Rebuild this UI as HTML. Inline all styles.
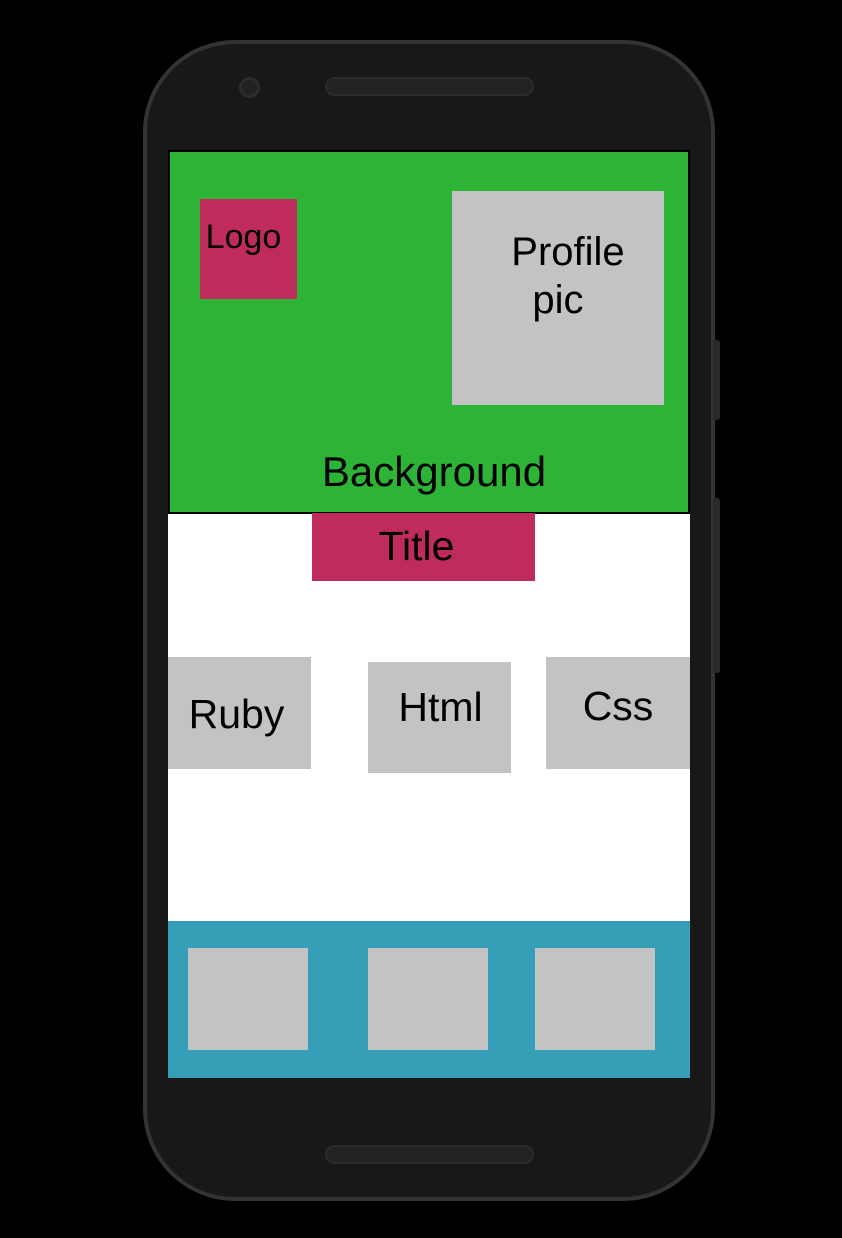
<!DOCTYPE html>
<html><head><meta charset="utf-8"><style>
body{margin:0;width:842px;height:1238px;background:#000;position:relative;overflow:hidden;font-family:"Liberation Sans",sans-serif}
div{position:absolute;box-sizing:border-box}
.g{background:#c3c3c3}
.t{color:#000;display:flex;align-items:center;justify-content:center;text-align:center;line-height:1.1}
</style></head><body>
<div style="left:143px;top:40px;width:572px;height:1161px;border-radius:92px;background:#181818;border:4px solid #333"></div>
<div style="left:713px;top:340px;width:7px;height:80px;background:#2a2a2a;border-radius:0 3px 3px 0"></div>
<div style="left:713px;top:498px;width:7px;height:175px;background:#2a2a2a;border-radius:0 3px 3px 0"></div>
<div style="left:239px;top:77px;width:21px;height:21px;border-radius:50%;background:#222;border:3px solid #2c2c2c"></div>
<div style="left:325px;top:77px;width:209px;height:19px;border-radius:10px;background:#222;border:2px solid #2b2b2b"></div>
<div style="left:325px;top:1145px;width:209px;height:19px;border-radius:10px;background:#222;border:2px solid #2b2b2b"></div>
<div style="left:168px;top:150px;width:522px;height:928px;background:#fff"></div>
<div style="left:168px;top:150px;width:522px;height:364px;background:#2db336;border:2px solid #000"></div>
<div class="t" style="left:300px;top:448px;width:268px;height:48px;font-size:42px">Background</div>
<div class="t" style="left:200px;top:199px;width:97px;height:100px;background:#bf2c5b;font-size:34px;align-items:flex-start;padding-top:20px;padding-right:10px">Logo</div>
<div class="g" style="left:452px;top:191px;width:212px;height:214px"></div>
<div class="t" style="left:468px;top:230px;width:200px;height:44px;font-size:40px">Profile</div>
<div class="t" style="left:458px;top:278px;width:200px;height:44px;font-size:40px">pic</div>
<div class="t" style="left:312px;top:513px;width:223px;height:68px;background:#bf2c5b;font-size:41px;padding-right:14px">Title</div>
<div class="t g" style="left:168px;top:657px;width:143px;height:112px;font-size:41px;padding-top:4px;padding-right:6px">Ruby</div>
<div class="t g" style="left:368px;top:662px;width:143px;height:111px;font-size:41px;padding-bottom:20px;padding-left:2px">Html</div>
<div class="t g" style="left:546px;top:657px;width:144px;height:112px;font-size:41px;padding-bottom:12px">Css</div>
<div style="left:168px;top:921px;width:522px;height:157px;background:#369fb8"></div>
<div class="g" style="left:188px;top:948px;width:120px;height:102px"></div>
<div class="g" style="left:368px;top:948px;width:120px;height:102px"></div>
<div class="g" style="left:535px;top:948px;width:120px;height:102px"></div>
</body></html>
